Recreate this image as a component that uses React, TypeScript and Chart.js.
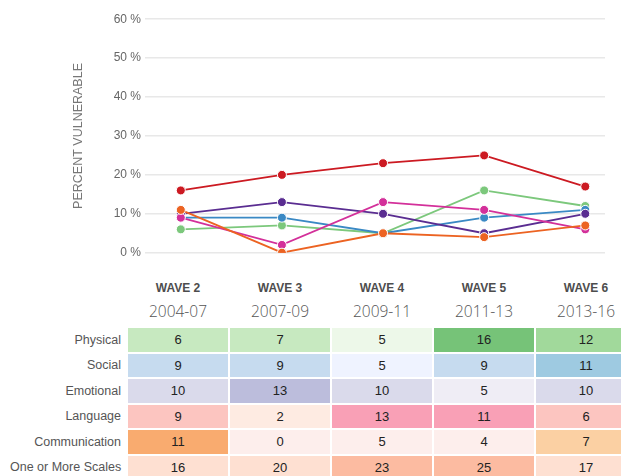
import React, { useEffect, useRef } from "react";
import { Chart, registerables } from "chart.js";

Chart.register(...registerables);

const waves = ["WAVE 2", "WAVE 3", "WAVE 4", "WAVE 5", "WAVE 6"];
const periods = ["2004-07", "2007-09", "2009-11", "2011-13", "2013-16"];
const seriesNames = ["Physical", "Social", "Emotional", "Language", "Communication", "One or More Scales"];

const physical = [6, 7, 5, 16, 12];
const social = [9, 9, 5, 9, 11];
const emotional = [10, 13, 10, 5, 10];
const language = [9, 2, 13, 11, 6];
const communication = [11, 0, 5, 4, 7];
const oneOrMore = [16, 20, 23, 25, 17];

const yMin = 0;
const yMax = 60;
const yStep = 10;

const lineColors = ["#7cc87c", "#3a89c4", "#5a2d91", "#d3309a", "#ec6322", "#cc1a22"];

const cellColors = [
  ["#c7e9c0", "#c7e9c0", "#edf8e9", "#76c378", "#a1d99b"],
  ["#c6dbef", "#c6dbef", "#eff3ff", "#c6dbef", "#9ecae1"],
  ["#dadaeb", "#bcbddc", "#dadaeb", "#efedf5", "#dadaeb"],
  ["#fcc5c0", "#feebe2", "#f9a0b6", "#f9a0b6", "#fcc5c0"],
  ["#f9ab6f", "#fdeeec", "#fdeeec", "#fdeeec", "#fbd0a3"],
  ["#fee0d2", "#fee0d2", "#fcbba1", "#fcbba1", "#fee0d2"],
];

const seriesValues = [physical, social, emotional, language, communication, oneOrMore];

const FONT = "'Liberation Sans', Arial, Helvetica, sans-serif";

export default function App() {
  const ref = useRef<HTMLCanvasElement>(null);

  useEffect(() => {
    if (!ref.current) return;
    Chart.defaults.font.family = FONT;
    const chart = new Chart(ref.current, {
      type: "line",
      data: {
        datasets: seriesValues.map((vals, k) => ({
          label: seriesNames[k],
          data: vals.map((v, i) => ({ x: i, y: v })),
          borderColor: lineColors[k],
          backgroundColor: lineColors[k],
          pointBackgroundColor: lineColors[k],
          pointBorderColor: "#ffffff",
          pointBorderWidth: 1,
          pointRadius: 4.5,
          borderWidth: 1.8,
          tension: 0,
          order: seriesValues.length - k,
        })),
      },
      options: {
        responsive: false,
        animation: false,
        layout: { padding: { left: 59, right: 24, top: 7.7, bottom: 17.3 } },
        plugins: { legend: { display: false }, tooltip: { enabled: false } },
        scales: {
          x: { type: "linear", display: false, min: -0.354, max: 4.195 },
          y: {
            min: yMin,
            max: yMax,
            ticks: {
              stepSize: yStep,
              callback: (v: any) => v + " %",
              padding: 4,
              color: "#666",
              font: { size: 12 },
            },
            grid: { color: "#e8e8e8", lineWidth: 1.5, drawTicks: false },
            border: { display: false },
            title: {
              display: true,
              text: "PERCENT VULNERABLE",
              color: "#777",
              font: { size: 12.5 },
              padding: { top: 4, bottom: 0 },
            },
            afterFit: (s: any) => {
              s.width = 78;
            },
          },
        },
      },
    });
    return () => chart.destroy();
  }, []);

  return (
    <div style={{ width: 621, height: 468, overflow: "hidden", fontFamily: FONT }}>
      <canvas ref={ref} width={621} height={262} style={{ display: "block", width: 621, height: 262 }} />
      <table
        style={{
          borderCollapse: "separate",
          borderSpacing: "2px",
          tableLayout: "fixed",
          width: 630,
        }}
      >
        <colgroup>
          <col style={{ width: 116 }} />
          {waves.map((w) => (
            <col key={w} style={{ width: 100 }} />
          ))}
        </colgroup>
        <tbody>
          <tr>
            <td style={{ height: 54, padding: 0 }} />
            {waves.map((w, i) => (
              <td key={w} style={{ height: 54, padding: 0, verticalAlign: "top", textAlign: "center" }}>
                <div
                  style={{
                    marginTop: 8,
                    height: 16,
                    lineHeight: "16px",
                    fontSize: 12,
                    fontWeight: "bold",
                    color: "#4d4d4d",
                  }}
                >
                  {w}
                </div>
                <div
                  style={{
                    marginTop: 4,
                    height: 22,
                    lineHeight: "22px",
                    fontSize: 15.5,
                    fontWeight: 300,
                    fontFamily: "'Open Sans', sans-serif",
                    color: "#555",
                  }}
                >
                  {periods[i]}
                </div>
              </td>
            ))}
          </tr>
          {seriesNames.map((name, r) => (
            <tr key={name}>
              <td
                style={{
                  height: 23.5,
                  padding: "0 5px 0 0",
                  textAlign: "right",
                  whiteSpace: "nowrap",
                  fontSize: 12.5,
                  color: "#555",
                }}
              >
                {name}
              </td>
              {seriesValues[r].map((v, c) => (
                <td
                  key={c}
                  style={{
                    height: 23.5,
                    padding: 0,
                    textAlign: "center",
                    background: cellColors[r][c],
                    fontSize: 13,
                    color: "#222",
                  }}
                >
                  {v}
                </td>
              ))}
            </tr>
          ))}
        </tbody>
      </table>
    </div>
  );
}
